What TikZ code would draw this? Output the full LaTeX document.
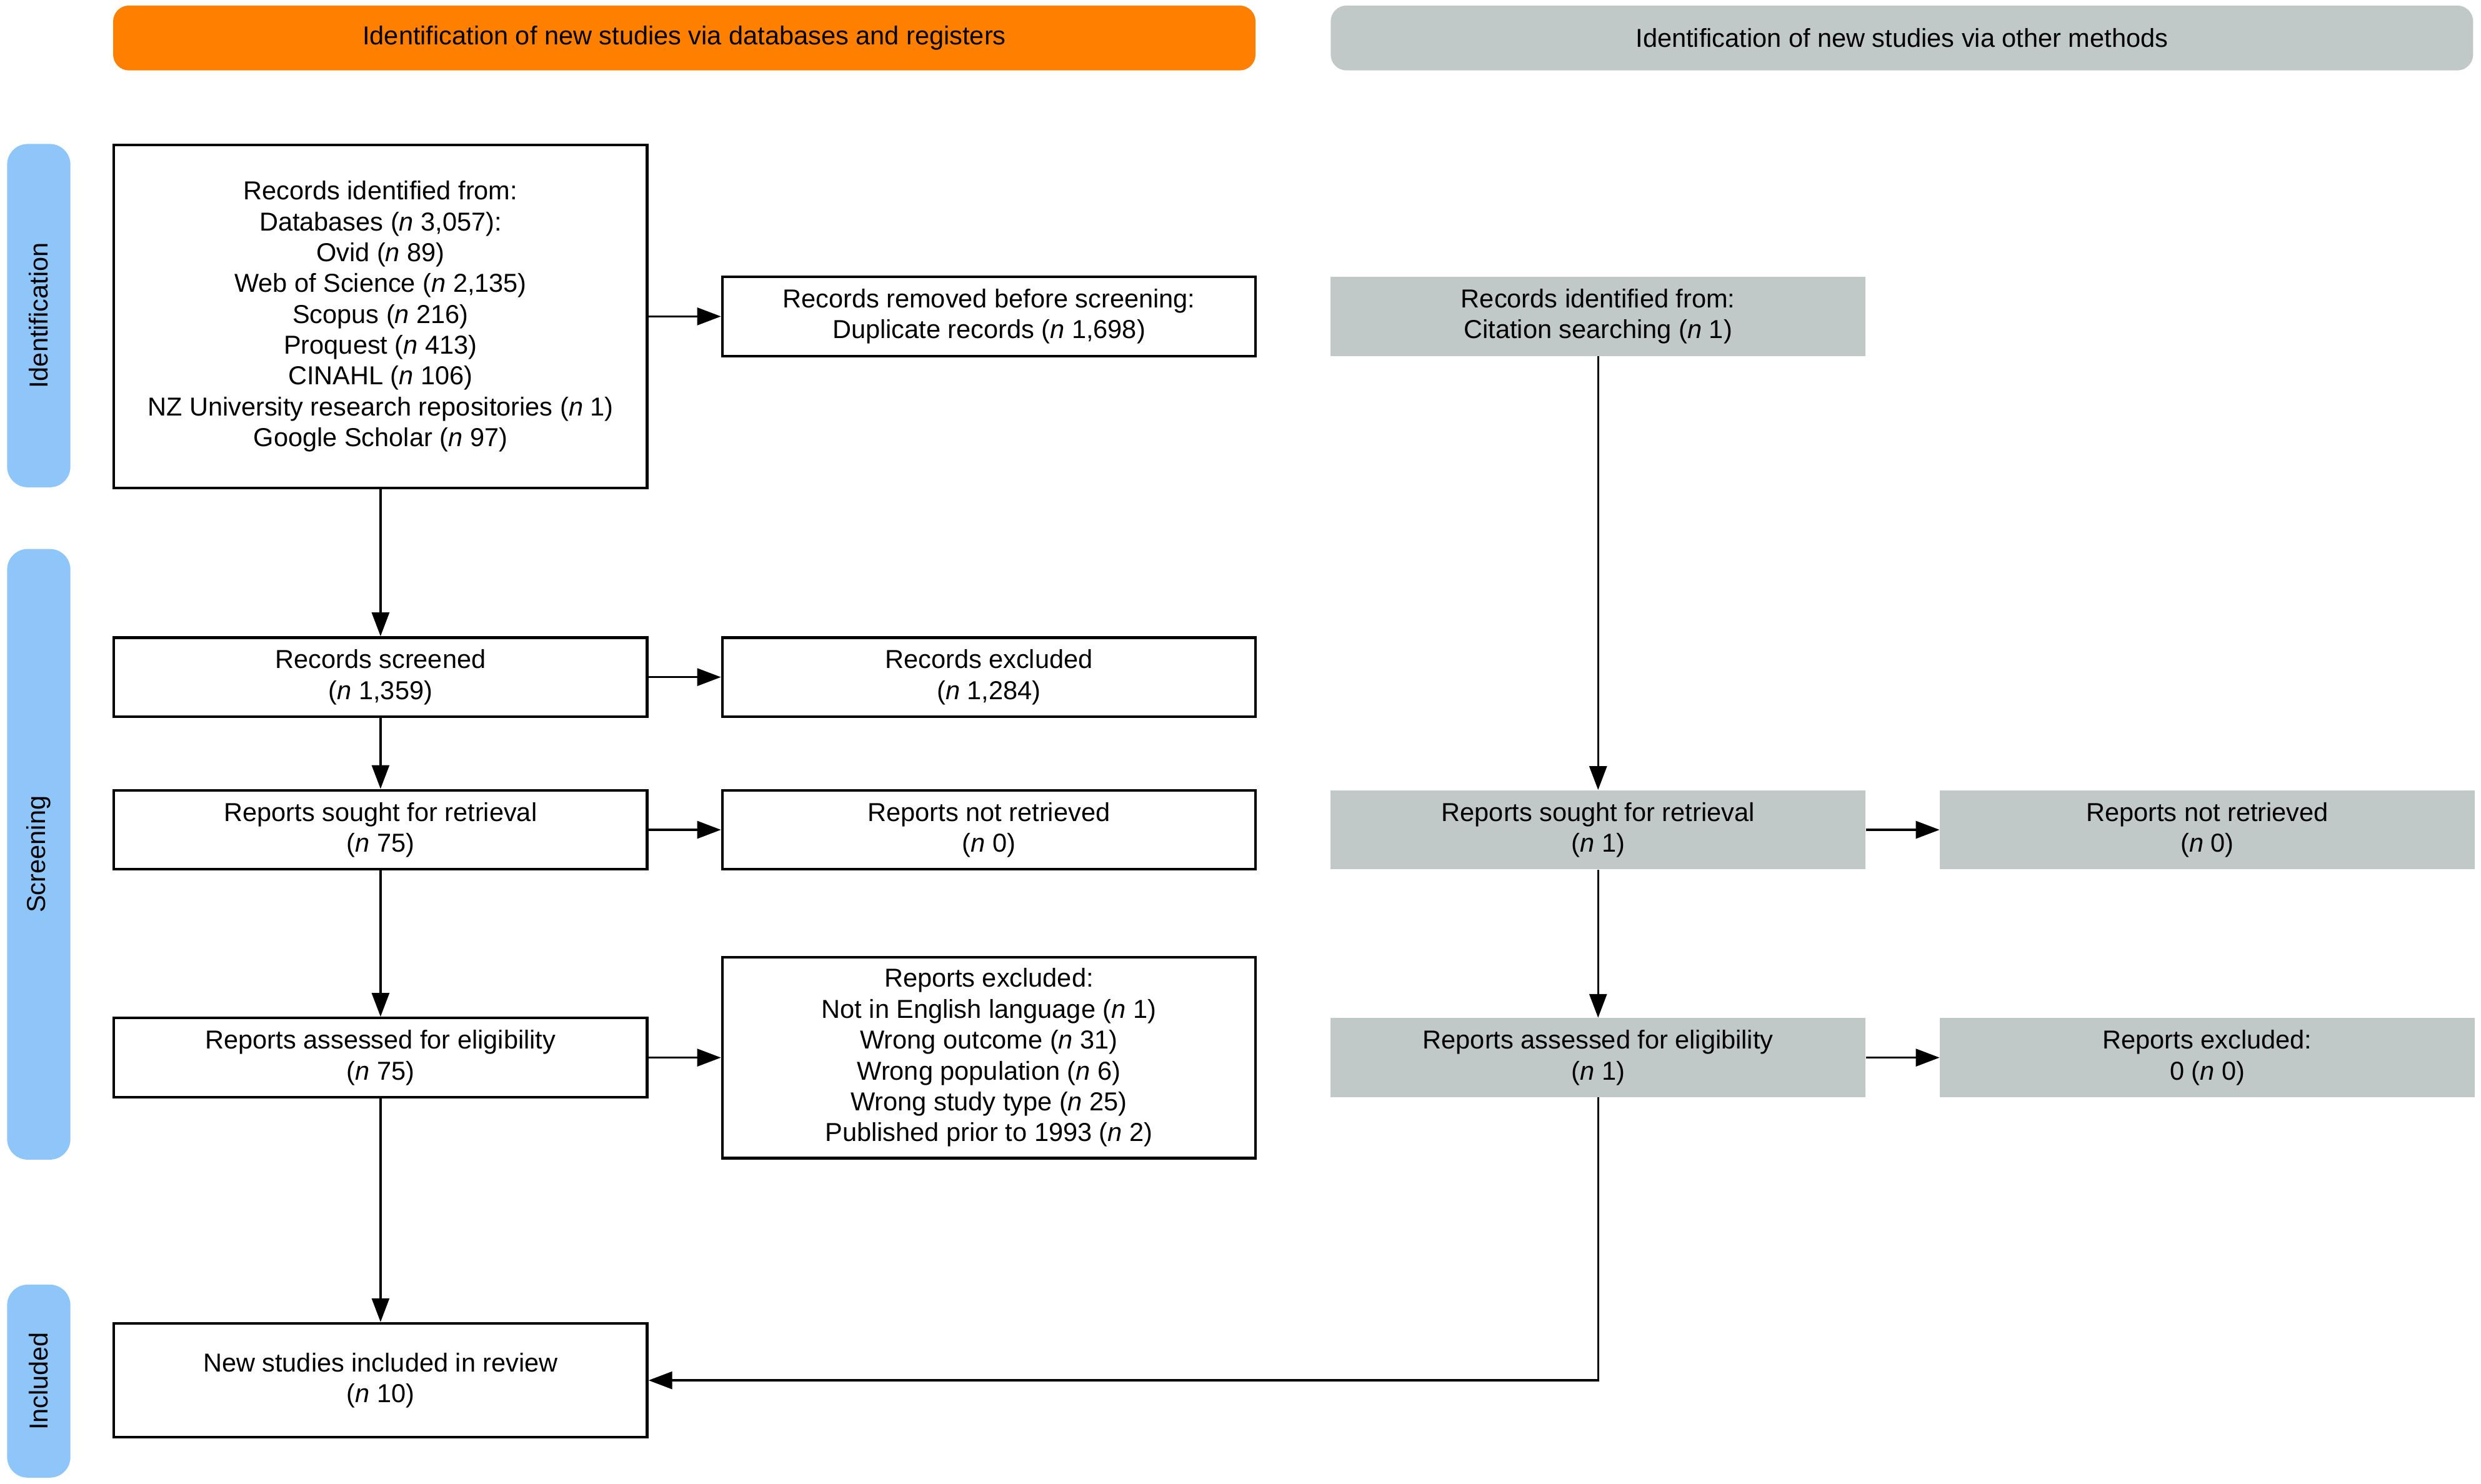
\documentclass[tikz,border=0pt]{standalone}
\usepackage{fontspec}
\setmainfont{Liberation Sans}
\usetikzlibrary{arrows.meta}
\definecolor{hdrorange}{HTML}{FF8000}
\definecolor{hdrgrey}{HTML}{C0C9C7}
\definecolor{phaseblue}{HTML}{8EC6FA}

\begin{document}
\begin{tikzpicture}[x=1pt,y=-1pt,
        font=\fontsize{16.4}{19.5}\selectfont,
        box/.style={shape=rectangle,draw=black,line width=1.7pt,minimum width=337pt,minimum height=50pt,inner sep=0pt,align=center},
        greybox/.style={shape=rectangle,fill=hdrgrey,minimum width=338pt,minimum height=50pt,inner sep=0pt,align=center},
        header/.style={shape=rectangle,rounded corners=10pt,minimum width=722pt,minimum height=41pt,inner sep=0pt},
        phase/.style={shape=rectangle,rounded corners=13pt,fill=phaseblue,minimum height=40pt,inner sep=0pt,rotate=90},
        flow/.style={line width=1.3pt,-{Triangle[length=15pt,width=11pt]}}]
                \useasboundingbox (0,0) rectangle (1568,938);

                \node[header, fill=hdrorange] (a) at (432.5,24) {Identification of new studies via databases and registers};
                \node[header, fill=hdrgrey] (b) at (1202,24) {Identification of new studies via other methods};

                \node[phase, minimum width=217pt] (p1) at (24.5,199.5) {Identification};
                \node[phase, minimum width=386pt] (p2) at (24.5,540) {Screening};
                \node[phase, minimum width=122pt] (p3) at (24.5,873) {Included};

                \node[box, minimum height=217pt] (1) at (240.5,200) {Records identified from:\\Databases (\textit{n} 3,057):\\Ovid (\textit{n} 89)\\Web of Science (\textit{n} 2,135)\\Scopus (\textit{n} 216)\\Proquest (\textit{n} 413)\\CINAHL (\textit{n} 106)\\NZ University research repositories (\textit{n} 1)\\Google Scholar (\textit{n} 97)};
                \node[box] (2) at (625,200) {Records removed before screening:\\Duplicate records (\textit{n} 1,698)};
                \node[greybox] (3) at (1010,200) {Records identified from:\\Citation searching (\textit{n} 1)};
                \node[box] (4) at (240.5,428) {Records screened\\(\textit{n} 1,359)};
                \node[box] (5) at (625,428) {Records excluded\\(\textit{n} 1,284)};
                \node[box] (6) at (240.5,524.5) {Reports sought for retrieval\\(\textit{n} 75)};
                \node[box] (7) at (625,524.5) {Reports not retrieved\\(\textit{n} 0)};
                \node[greybox] (8) at (1010,524.5) {Reports sought for retrieval\\(\textit{n} 1)};
                \node[greybox] (9) at (1395,524.5) {Reports not retrieved\\(\textit{n} 0)};
                \node[box] (10) at (240.5,668.5) {Reports assessed for eligibility\\(\textit{n} 75)};
                \node[box, minimum height=127pt] (11) at (625,668.5) {Reports excluded:\\Not in English language (\textit{n} 1)\\Wrong outcome (\textit{n} 31)\\Wrong population (\textit{n} 6)\\Wrong study type (\textit{n} 25)\\Published prior to 1993 (\textit{n} 2)};
                \node[greybox] (12) at (1010,668.5) {Reports assessed for eligibility\\(\textit{n} 1)};
                \node[greybox] (13) at (1395,668.5) {Reports excluded:\\0 (\textit{n} 0)};
                \node[box, minimum height=72pt] (14) at (240.5,872.5) {New studies included in review\\(\textit{n} 10)};

                \draw[flow] (1) edge (2);
                \draw[flow] (1) edge (4);

                \draw[flow] (4) edge (5);
                \draw[flow] (4) edge (6);

                \draw[flow] (6) edge (7);
                \draw[flow] (6) edge (10);

                \draw[flow] (10) edge (11);
                \draw[flow] (10) edge (14);

                \draw[flow] (3) edge (8);
                \draw[flow] (8) edge (9);
                \draw[flow] (8) edge (12);
                \draw[flow] (12) edge (13);

                \draw[flow] (12) |- (14);
            \end{tikzpicture}
\end{document}
